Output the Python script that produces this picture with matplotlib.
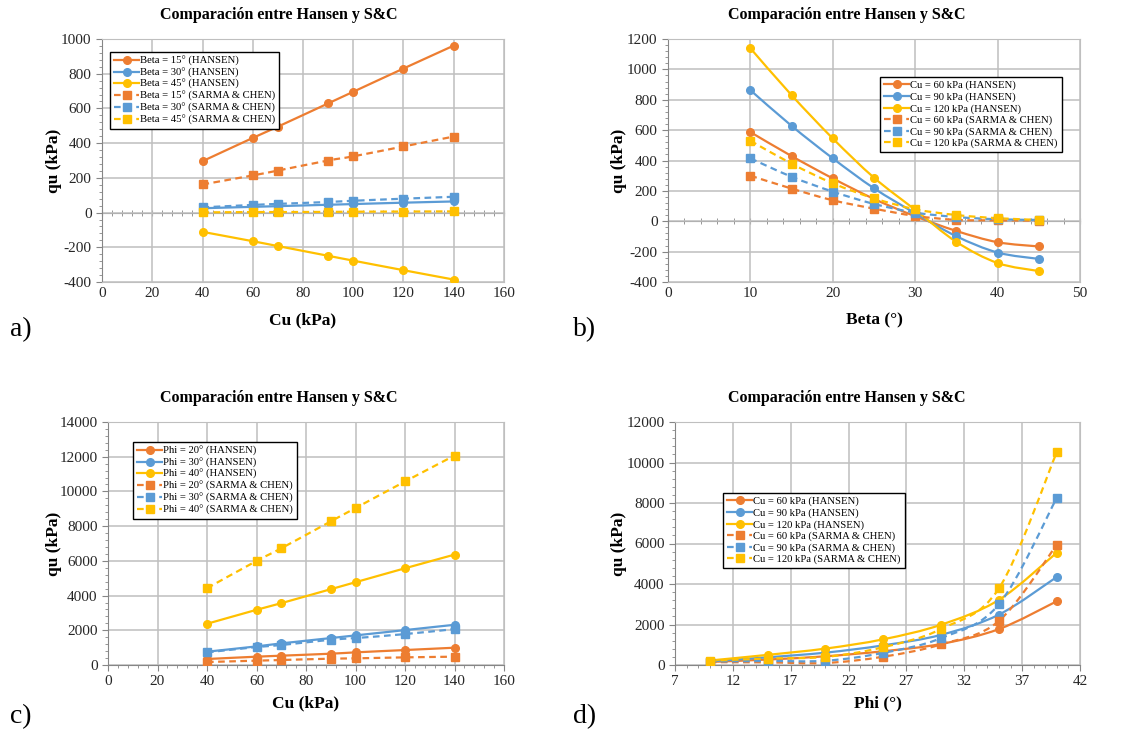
import numpy as np
import matplotlib.pyplot as plt
from matplotlib.path import Path
from matplotlib.patches import PathPatch
from matplotlib.lines import Line2D
from matplotlib.ticker import MultipleLocator

plt.rcParams['font.family'] = ['Liberation Serif', 'DejaVu Serif']
plt.rcParams['axes.unicode_minus'] = False

ORANGE = '#ED7D31'
BLUE = '#5B9BD5'
GOLD = '#FFC000'

# a) qu vs Cu for several Beta
cu_a = [40, 60, 70, 90, 100, 120, 140]
hansen_b15 = [296, 430, 495, 629, 696, 830, 962]
hansen_b30 = [25, 33, 37, 45, 49, 57, 64]
hansen_b45 = [-111, -165, -193, -249, -277, -332, -386]
sc_b15 = [162, 214, 242, 300, 324, 381, 438]
sc_b30 = [30, 44, 50, 61, 68, 80, 91]
sc_b45 = [1, 3, 3, 4, 5, 6, 7]
labels_a = ['Beta = 15° (HANSEN)', 'Beta = 30° (HANSEN)', 'Beta = 45° (HANSEN)',
            'Beta = 15° (SARMA & CHEN)', 'Beta = 30° (SARMA & CHEN)', 'Beta = 45° (SARMA & CHEN)']

# b) qu vs Beta for several Cu
beta_b = [10, 15, 20, 25, 30, 35, 40, 45]
hansen_cu60 = [587, 429, 282, 147, 33, -64, -138, -166]
hansen_cu90 = [863, 628, 414, 217, 53, -99, -206, -248]
hansen_cu120 = [1139, 830, 545, 287, 75, -136, -275, -328]
sc_cu60 = [300, 215, 138, 83, 35, 9, 6, 4]
sc_cu90 = [414, 293, 195, 114, 57, 28, 13, 9]
sc_cu120 = [530, 379, 250, 151, 79, 41, 20, 9]
labels_b = ['Cu = 60 kPa (HANSEN)', 'Cu = 90 kPa (HANSEN)', 'Cu = 120 kPa (HANSEN)',
            'Cu = 60 kPa (SARMA & CHEN)', 'Cu = 90 kPa (SARMA & CHEN)', 'Cu = 120 kPa (SARMA & CHEN)']

# c) qu vs Cu for several Phi
cu_c = [40, 60, 70, 90, 100, 120, 140]
hansen_phi20 = [345, 479, 536, 651, 728, 862, 996]
hansen_phi30 = [766, 1072, 1245, 1551, 1705, 2011, 2317]
hansen_phi40 = [2375, 3179, 3562, 4367, 4769, 5573, 6359]
sc_phi20 = [172, 249, 287, 364, 383, 440, 479]
sc_phi30 = [728, 1034, 1149, 1456, 1551, 1781, 2069]
sc_phi40 = [4424, 5995, 6723, 8275, 9041, 10573, 12067]
labels_c = ['Phi = 20° (HANSEN)', 'Phi = 30° (HANSEN)', 'Phi = 40° (HANSEN)',
            'Phi = 20° (SARMA & CHEN)', 'Phi = 30° (SARMA & CHEN)', 'Phi = 40° (SARMA & CHEN)']

# d) qu vs Phi for several Cu
phi_d = [10, 15, 20, 25, 30, 35, 40]
hansen_d60 = [150, 270, 430, 680, 1040, 1775, 3150]
hansen_d90 = [180, 380, 610, 970, 1490, 2490, 4350]
hansen_d120 = [220, 500, 810, 1270, 1990, 3220, 5550]
sc_d60 = [140, 130, 100, 410, 1020, 2180, 5940]
sc_d90 = [170, 200, 210, 600, 1330, 3000, 8260]
sc_d120 = [210, 320, 400, 880, 1780, 3790, 10520]
labels_d = labels_b


def smooth_path(x, y):
    # Excel style smoothed line: cubic Bezier through the points
    pts = np.column_stack([x, y]).astype(float)
    n = len(pts)
    verts = [pts[0]]
    codes = [Path.MOVETO]
    for i in range(n - 1):
        p0 = pts[max(i - 1, 0)]
        p1 = pts[i]
        p2 = pts[i + 1]
        p3 = pts[min(i + 2, n - 1)]
        verts += [p1 + (p2 - p0) / 6, p2 - (p3 - p1) / 6, p2]
        codes += [Path.CURVE4] * 3
    return Path(verts, codes)


def draw(ax, x, y, color, dashed, label):
    ls = (0, (3, 2)) if dashed else '-'
    marker = 's' if dashed else 'o'
    ms = 6 if dashed else 5.5
    ax.add_patch(PathPatch(smooth_path(x, y), fill=False, edgecolor=color,
                           lw=1.6, linestyle=ls, zorder=3))
    ax.plot(x, y, ls='none', marker=marker, ms=ms, color=color, zorder=4)
    return Line2D([], [], color=color, lw=1.6, ls=ls, marker=marker, ms=ms, label=label)


def setup(ax, xlim, xticks, xminor, ylim, ymajor, yminor, xlabel, ylab_x, zero_axis):
    ax.set_xlim(xlim)
    ax.set_ylim(ylim)
    ax.set_xticks(xticks)
    ax.xaxis.set_minor_locator(MultipleLocator(xminor))
    ax.yaxis.set_major_locator(MultipleLocator(ymajor))
    ax.yaxis.set_minor_locator(MultipleLocator(yminor))
    ax.grid(which='major', color='#bfbfbf', lw=1.1)
    ax.set_axisbelow(True)
    for s in ['top', 'right', 'bottom']:
        ax.spines[s].set_color('#bfbfbf')
    ax.spines['left'].set_color('#868686')
    ax.tick_params(which='both', direction='out', color='#868686', labelsize=11,
                   labelcolor='#262626')
    ax.tick_params(which='major', length=4)
    ax.tick_params(which='minor', length=2.5)
    if zero_axis:
        ax.tick_params(axis='x', which='both', length=0)
        sec = ax.secondary_xaxis((0 - ylim[0]) / (ylim[1] - ylim[0]))
        sec.set_xticks(xticks)
        sec.xaxis.set_minor_locator(MultipleLocator(xminor))
        sec.tick_params(which='both', direction='inout', color='#868686',
                        labelbottom=False, labeltop=False)
        sec.tick_params(which='major', length=5)
        sec.tick_params(which='minor', length=4)
        for s in sec.spines.values():
            s.set_color('#868686')
    else:
        ax.spines['bottom'].set_color('#868686')
    ax.set_xlabel(xlabel, fontsize=12.5, fontweight='bold')
    ax.set_ylabel('qu (kPa)', fontsize=12.5, fontweight='bold')
    ax.xaxis.set_label_coords(0.5, -0.125)
    ax.yaxis.set_label_coords(ylab_x, 0.5)


fig = plt.figure(figsize=(11.31, 7.31), dpi=100)
W, H = 1131, 731


def axes_px(l, r, t, b):
    return fig.add_axes([l / W, 1 - b / H, (r - l) / W, (b - t) / H])


def legend(ax, handles, x, y):
    leg = ax.legend(handles=handles, loc='upper left', bbox_to_anchor=(x / W, 1 - y / H),
                    bbox_transform=fig.transFigure, fontsize=7.7, fancybox=False,
                    edgecolor='black', framealpha=1, handlelength=2.4, handletextpad=0.1,
                    labelspacing=0.17, borderpad=0.35, borderaxespad=0)
    leg.get_frame().set_linewidth(1.0)


colors = [ORANGE, BLUE, GOLD]

ax_a = axes_px(102, 504, 39, 282)
h = []
for c, yv, lab in zip(colors, [hansen_b15, hansen_b30, hansen_b45], labels_a[:3]):
    h.append(draw(ax_a, cu_a, yv, c, False, lab))
for c, yv, lab in zip(colors, [sc_b15, sc_b30, sc_b45], labels_a[3:]):
    h.append(draw(ax_a, cu_a, yv, c, True, lab))
setup(ax_a, (0, 160), range(0, 161, 20), 4, (-400, 1000), 200, 40, 'Cu (kPa)', -0.0995, True)
legend(ax_a, h, 110, 52)

ax_b = axes_px(668, 1080, 39, 282)
h = []
for c, yv, lab in zip(colors, [hansen_cu60, hansen_cu90, hansen_cu120], labels_b[:3]):
    h.append(draw(ax_b, beta_b, yv, c, False, lab))
for c, yv, lab in zip(colors, [sc_cu60, sc_cu90, sc_cu120], labels_b[3:]):
    h.append(draw(ax_b, beta_b, yv, c, True, lab))
setup(ax_b, (0, 50), range(0, 51, 10), 2, (-400, 1200), 200, 40, 'Beta (°)', -0.0995, True)
legend(ax_b, h, 880, 77)

ax_c = axes_px(108, 504, 422, 665)
h = []
for c, yv, lab in zip(colors, [hansen_phi20, hansen_phi30, hansen_phi40], labels_c[:3]):
    h.append(draw(ax_c, cu_c, yv, c, False, lab))
for c, yv, lab in zip(colors, [sc_phi20, sc_phi30, sc_phi40], labels_c[3:]):
    h.append(draw(ax_c, cu_c, yv, c, True, lab))
setup(ax_c, (0, 160), range(0, 161, 20), 4, (0, 14000), 2000, 400, 'Cu (kPa)', -0.116, False)
legend(ax_c, h, 133, 442)

ax_d = axes_px(675, 1080, 422, 665)
h = []
for c, yv, lab in zip(colors, [hansen_d60, hansen_d90, hansen_d120], labels_d[:3]):
    h.append(draw(ax_d, phi_d, yv, c, False, lab))
for c, yv, lab in zip(colors, [sc_d60, sc_d90, sc_d120], labels_d[3:]):
    h.append(draw(ax_d, phi_d, yv, c, True, lab))
setup(ax_d, (7, 42), range(7, 43, 5), 1, (0, 12000), 2000, 400, 'Phi (°)', -0.1185, False)
legend(ax_d, h, 723, 493)

title = 'Comparación entre Hansen y S&C'
for x, y in [(279, 15), (847, 15), (279, 398), (847, 398)]:
    fig.text(x / W, 1 - y / H, title, ha='center', va='center', fontsize=11.5,
             fontweight='bold')

for lab, x, y in [('a)', 10, 330), ('b)', 573, 330), ('c)', 10, 717), ('d)', 573, 717)]:
    fig.text(x / W, 1 - y / H, lab, ha='left', va='center', fontsize=20)

fig.savefig('out.png', dpi=100)
